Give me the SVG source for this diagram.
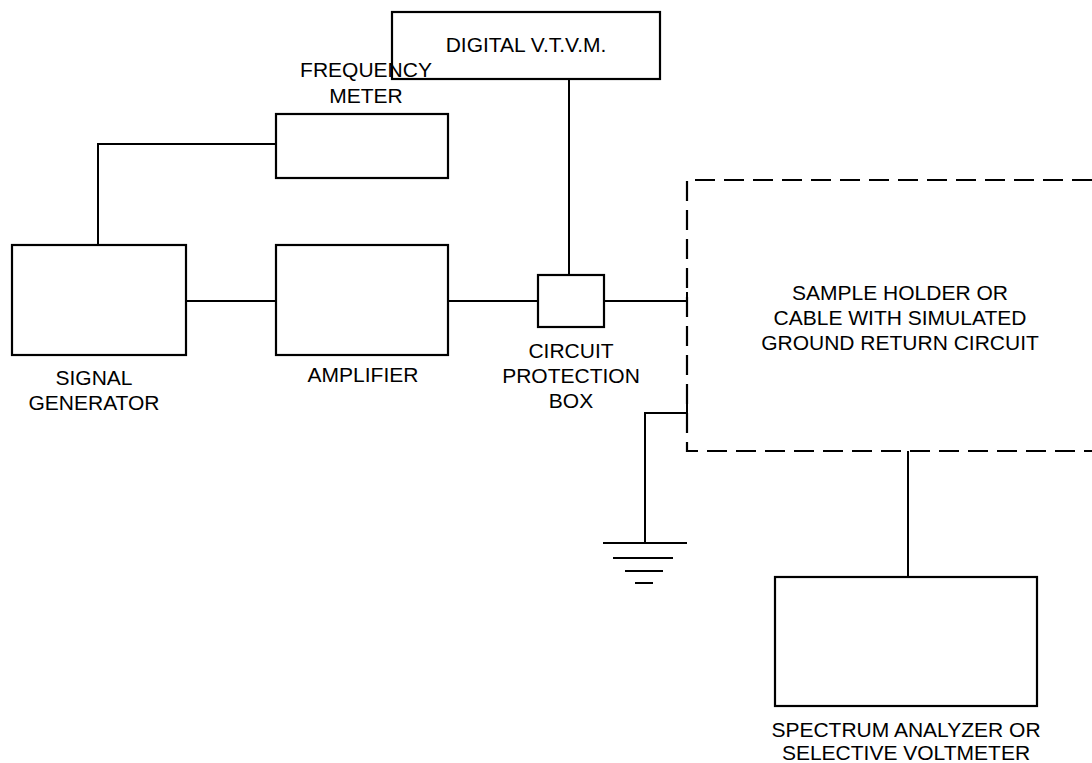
<svg xmlns="http://www.w3.org/2000/svg" width="1092" height="763" viewBox="0 0 1092 763">
<style>
.box{fill:none;stroke:#000;stroke-width:2.2}
.ln{fill:none;stroke:#000;stroke-width:2}
.dash{fill:none;stroke:#000;stroke-width:2.2;stroke-dasharray:20 9}
text{font-family:"Liberation Sans",Arial,sans-serif;font-size:21px;fill:#000;text-anchor:middle}
</style>
<rect width="1092" height="763" fill="#fff"/>
<g id="connectors">
<polyline class="ln" points="98,245 98,144 276,144"/>
<line class="ln" x1="186" y1="301" x2="276" y2="301"/>
<line class="ln" x1="448" y1="301" x2="538" y2="301"/>
<line class="ln" x1="569" y1="79" x2="569" y2="275"/>
<line class="ln" x1="604" y1="301" x2="687" y2="301"/>
<line class="ln" x1="687" y1="292" x2="687" y2="310"/>
<polyline class="ln" points="687,413 645,413 645,543"/>
<line class="ln" x1="687" y1="404" x2="687" y2="422"/>
<line class="ln" x1="908" y1="451" x2="908" y2="577"/>
</g>
<g id="ground">
<line class="ln" x1="603" y1="543" x2="687" y2="543"/>
<line class="ln" x1="613" y1="558" x2="673" y2="558"/>
<line class="ln" x1="625" y1="571" x2="663" y2="571"/>
<line class="ln" x1="635" y1="583" x2="653" y2="583"/>
</g>
<g id="signal-generator">
<rect class="box" x="12" y="245" width="174" height="110"/>
<text x="94" y="385">SIGNAL</text>
<text x="94" y="410">GENERATOR</text>
</g>
<g id="frequency-meter">
<rect class="box" x="276" y="114" width="172" height="64"/>
<text x="366" y="77">FREQUENCY</text>
<text x="366" y="103">METER</text>
</g>
<g id="amplifier">
<rect class="box" x="276" y="245" width="172" height="110"/>
<text x="363" y="382">AMPLIFIER</text>
</g>
<g id="circuit-protection-box">
<rect class="box" x="538" y="275" width="66" height="52"/>
<text x="571" y="358">CIRCUIT</text>
<text x="571" y="383">PROTECTION</text>
<text x="571" y="408">BOX</text>
</g>
<g id="digital-vtvm">
<rect class="box" x="392" y="12" width="268" height="67"/>
<text x="526" y="52">DIGITAL V.T.V.M.</text>
</g>
<g id="sample-holder">
<polyline class="dash" points="1092,180 687,180 687,451 1092,451"/>
<text x="900" y="300">SAMPLE HOLDER OR</text>
<text x="900" y="325">CABLE WITH SIMULATED</text>
<text x="900" y="350">GROUND RETURN CIRCUIT</text>
</g>
<g id="spectrum-analyzer">
<rect class="box" x="775" y="577" width="262" height="129"/>
<text x="906" y="737">SPECTRUM ANALYZER OR</text>
<text x="906" y="760">SELECTIVE VOLTMETER</text>
</g>
</svg>
